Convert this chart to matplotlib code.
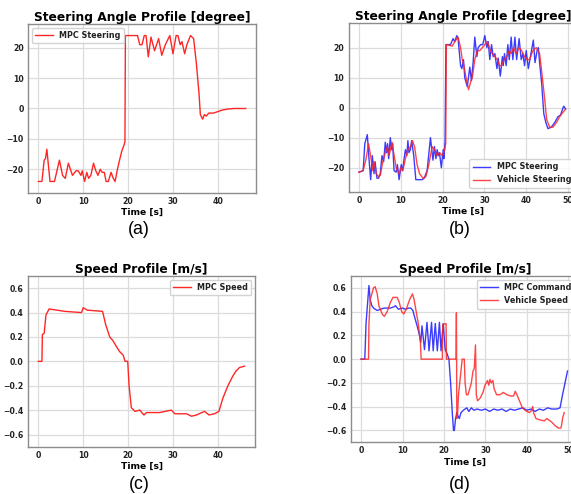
import matplotlib
matplotlib.use("Agg")
import matplotlib.pyplot as plt
import numpy as np

# ---------------- data ----------------
# (a) MPC steering [deg]
a_t = [0, 0.8, 1.3, 1.6, 1.9, 2.6, 3.6, 4.7, 5.4, 6.0, 6.7, 7.6, 8.4, 8.9, 9.5, 9.8,
       10.3, 10.8, 11.2, 11.7, 12.3, 12.8, 13.3, 13.8, 14.2, 14.7, 15.1, 15.6, 16.2, 16.7,
       17.1, 17.7, 18.1, 18.6, 19.1, 19.3, 19.4, 22.1, 22.6, 23.1, 23.6, 24.0, 24.5, 25.1,
       25.9, 26.8, 27.5, 28.3, 29.3, 30.0, 30.7, 31.1, 31.6, 32.0, 32.6, 33.1, 33.9, 34.6,
       35.2, 35.8, 36.1, 36.6, 37.0, 37.4, 38.0, 39.1, 40.0, 41.0, 42.1, 43.6, 46.2]
a_v = [-24, -24, -17, -16.5, -13.4, -24, -24, -17, -22, -23, -18, -22, -20.5, -20.5, -22, -20.5,
       -24, -21, -23, -22, -18, -20.5, -22, -20, -21, -21, -24, -24, -21, -23,
       -24, -19.5, -17, -14, -12, -11, 24, 24, 21, 21, 24, 24, 17, 23.5,
       19, 23, 17.5, 21, 24, 18, 24, 24, 21, 22, 18, 21, 24, 23,
       15, 5, -2, -3.5, -2, -2.5, -1.5, -1.5, -1, -0.5, -0.2, 0, 0]

# (b) MPC steering vs vehicle steering [deg]
b_t_mpc = [0, 1.0, 1.4, 2.0, 2.4, 2.8, 3.2, 3.6, 3.85, 4.3, 4.7, 5.1, 5.5, 5.9, 6.3, 6.6,
           6.85, 7.1, 7.5, 7.8, 8.05, 8.4, 8.9, 9.2, 9.6, 10.1, 10.4, 10.8, 11.1, 11.45,
           11.7, 11.95, 12.3, 12.6, 13.1, 13.6, 15.1, 15.6, 16.3, 17.1, 17.7, 18.05, 18.4,
           18.7, 19.0, 19.25, 19.7, 20.15, 20.3, 20.6, 20.8, 21.9, 22.5, 22.9, 23.4, 23.7,
           23.9, 24.3, 24.6, 25.0, 25.3, 25.9, 26.5, 26.9, 27.3, 27.7, 28.2, 28.5, 29.1,
           29.6, 30.1, 30.6, 30.9, 31.3, 31.7, 32.1, 32.5, 33.0, 33.3, 33.8, 34.3, 34.5,
           34.8, 35.2, 35.6, 35.95, 36.4, 36.8, 37.3, 37.7, 38.3, 38.8, 39.2, 39.6, 40.0,
           40.5, 41.0, 41.7, 42.1, 42.6, 42.9, 43.2, 43.7, 44.2, 44.7, 45.2, 46.0, 46.8,
           47.6, 48.2, 48.8, 49.0, 49.4]
b_v_mpc = [-21.5, -21, -12, -9, -17, -24, -16, -22, -18, -23.5, -23.5, -22, -16, -18, -11.5, -15,
           -12, -17, -10, -14, -12, -21, -21.5, -19, -24, -19, -21, -17, -14, -16,
           -11, -15, -14, -11, -16, -24, -24, -23.5, -21, -10, -17.5, -13, -17,
           -14, -16, -15, -20, -14, -17, -11, 21, 21, 23, 22, 24, 23,
           20, 14, 13, 16, 10, 7, 13.5, 9, 15, 23.5, 17, 20, 21,
           21, 24, 20, 22, 16, 21, 17, 18, 13, 16.5, 10.5, 17, 14,
           18, 14, 21, 16, 23.5, 16, 23.5, 16, 23, 16, 18, 14, 19,
           13, 17, 22.5, 15, 19, 20, 15, 8, -2, -5, -7, -6.5, -5,
           -3, -2.5, 0, 0.5, -0.5]
b_t_veh = [0, 1.0, 1.7, 2.3, 2.9, 3.3, 3.6, 4.1, 4.7, 5.1, 5.7, 6.3, 6.8, 7.2, 7.9, 8.3,
           8.9, 9.6, 10.0, 10.5, 11.1, 11.7, 12.3, 12.8, 13.3, 13.9, 14.5, 15.3, 16.0, 16.7,
           17.5, 18.1, 18.7, 19.3, 19.9, 20.5, 20.75, 20.9, 21.1, 22.3, 22.9, 23.7, 24.3,
           24.7, 25.1, 25.6, 26.2, 26.8, 27.1, 27.7, 28.3, 28.9, 29.8, 30.7, 31.4, 31.9,
           32.5, 33.1, 33.6, 34.1, 34.7, 35.4, 35.95, 36.4, 37.0, 37.6, 38.3, 38.9, 39.6,
           40.2, 40.8, 41.6, 42.4, 43.2, 43.7, 44.4, 44.9, 45.6, 46.4, 47.2, 48.0, 48.8, 49.4]
b_v_veh = [-21.5, -21, -17, -12, -17, -21, -18, -22, -23, -22.5, -18, -15, -13, -16, -11.5, -15,
           -20, -22, -20, -21, -17, -14, -13, -11, -13, -19, -22, -23.5, -23, -19,
           -13, -14, -16, -15, -16, -14, -12, 21, 21, 20.5, 22, 23.5, 20,
           16, 14, 10, 6, 9, 10, 16, 19, 19, 20.5, 22, 19, 18,
           17, 16, 14, 14, 16, 17, 19, 18, 20, 18, 20, 19, 17,
           16, 16, 19, 20, 18, 12, 3, -4, -6.5, -6.5, -5, -3, -1.5, -0.5]

# (c) MPC speed [m/s]
c_t = [0, 0.8, 0.9, 1.3, 1.7, 2.4, 4.1, 5.9, 9.6, 10.0, 10.9, 14.3, 15.0, 15.9, 16.6,
       17.4, 18.1, 18.9, 19.3, 19.9, 20.2, 20.7, 21.5, 22.6, 23.5, 24.1, 27.0, 29.6,
       30.4, 33.0, 34.1, 35.2, 37.0, 38.0, 39.2, 40.2, 41.1, 42.2, 43.3, 44.0, 44.8, 45.9]
c_v = [0, 0, 0.22, 0.23, 0.38, 0.43, 0.42, 0.41, 0.40, 0.44, 0.42, 0.41, 0.3, 0.2, 0.17,
       0.12, 0.08, 0.05, 0.0, 0.0, -0.2, -0.38, -0.41, -0.40, -0.44, -0.42, -0.42, -0.40,
       -0.43, -0.43, -0.45, -0.44, -0.41, -0.44, -0.43, -0.41, -0.3, -0.2, -0.12, -0.08, -0.05, -0.04]

# (d) MPC command vs vehicle speed [m/s]
d_t_cmd = [0, 0.9, 1.2, 1.9, 2.2, 2.6, 3.0, 3.9, 4.7, 5.5, 6.3, 7.1, 7.9, 8.3, 9.0, 10.0,
           10.7, 11.5, 12.0, 12.5, 12.8, 13.2, 13.6, 14.1, 14.4, 14.7, 15.3, 15.9, 16.4,
           17.0, 17.4, 17.9, 18.4, 18.9, 19.3, 19.8, 20.3, 20.7, 21.2, 21.6, 22.0, 22.3,
           22.5, 22.8, 23.1, 23.4, 23.7, 24.1, 24.7, 25.5, 26.0, 26.6, 27.2, 28.0, 29.0,
           30.0, 31.0, 32.0, 33.0, 34.0, 35.0, 36.0, 37.0, 38.0, 39.0, 40.0, 41.0, 42.0,
           43.0, 44.0, 45.0, 46.0, 47.2, 48.0, 48.6, 49.2, 49.8]
d_v_cmd = [0, 0, 0.3, 0.62, 0.5, 0.45, 0.43, 0.41, 0.42, 0.43, 0.43, 0.43, 0.44, 0.45, 0.42, 0.43,
           0.42, 0.43, 0.43, 0.41, 0.37, 0.32, 0.27, 0.2, 0.14, 0.28, 0.08, 0.31, 0.07,
           0.31, 0.07, 0.30, 0.07, 0.31, 0.07, 0.30, 0.08, 0.05, 0.0, -0.2, -0.45, -0.6,
           -0.6, -0.5, -0.45, -0.48, -0.5, -0.45, -0.43, -0.41, -0.44, -0.41, -0.43, -0.42, -0.43,
           -0.42, -0.44, -0.42, -0.43, -0.42, -0.44, -0.42, -0.43, -0.42, -0.41, -0.43, -0.42, -0.44,
           -0.42, -0.43, -0.41, -0.42, -0.42, -0.41, -0.3, -0.2, -0.1]
d_t_veh = [0, 1.8, 1.9, 2.2, 3.0, 3.4, 3.9, 4.3, 5.1, 5.6, 6.3, 7.1, 7.7, 8.7, 9.2, 9.8,
           10.3, 10.9, 11.7, 12.4, 12.8, 13.3, 13.8, 14.3, 14.5, 19.6, 19.7, 20.5, 20.6,
           22.9, 23.0, 23.1, 23.3, 23.5, 23.8, 24.1, 24.4, 24.9, 25.1, 25.4, 25.8, 26.2,
           26.6, 27.0, 27.3, 27.6, 27.8, 28.1, 28.7, 29.4, 29.9, 30.5, 30.8, 31.1, 31.4,
           31.8, 32.1, 32.7, 33.5, 34.3, 35.2, 36.1, 36.8, 37.2, 37.6, 38.2, 38.8, 39.2,
           40.0, 40.6, 41.2, 41.4, 41.6, 42.2, 43.0, 44.2, 44.8, 46.0, 46.8, 47.6, 48.2,
           48.4, 48.6, 49.0]
d_v_veh = [0, 0, 0.3, 0.5, 0.6, 0.61, 0.55, 0.45, 0.38, 0.36, 0.4, 0.48, 0.52, 0.52, 0.48, 0.40,
           0.38, 0.42, 0.50, 0.55, 0.5, 0.40, 0.3, 0.15, 0, 0, 0.29, 0.3, 0,
           0, 0.39, -0.5, -0.45, -0.3, -0.2, -0.1, 0, 0, -0.2, -0.3, -0.3, -0.25,
           -0.2, -0.1, -0.08, 0.12, -0.3, -0.35, -0.33, -0.28, -0.22, -0.18, -0.22, -0.17, -0.2,
           -0.18, -0.25, -0.3, -0.3, -0.28, -0.3, -0.31, -0.31, -0.27, -0.3, -0.35, -0.4, -0.42,
           -0.44, -0.45, -0.43, -0.40, -0.45, -0.5, -0.51, -0.52, -0.5, -0.53, -0.56, -0.58, -0.58,
           -0.55, -0.5, -0.45]

titles = ["Steering Angle Profile [degree]", "Steering Angle Profile [degree]",
          "Speed Profile [m/s]", "Speed Profile [m/s]"]
captions = ["(a)", "(b)", "(c)", "(d)"]
xlabel = "Time [s]"

# ---------------- figure ----------------
W, H = 571, 494
fig = plt.figure(figsize=(W / 100, H / 100), dpi=100)
plt.rcParams['font.family'] = ['DejaVu Sans']

def box(l, r, t, b):
    return [l / W, (H - b) / H, (r - l) / W, (b - t) / H]

axes = [
    fig.add_axes(box(28, 256, 24, 193)),
    fig.add_axes(box(348.5, 578.5, 23.3, 191.7)),
    fig.add_axes(box(28, 255.3, 276, 446.7)),
    fig.add_axes(box(350.7, 578.7, 276, 442.3)),
]

RED = (1.0, 0.15, 0.15)
BLUE = (0.1, 0.1, 1.0)
lw = 1.0

axes[0].plot(a_t, a_v, color=RED, lw=lw, label="MPC Steering")
axes[1].plot(b_t_mpc, b_v_mpc, color=BLUE, lw=lw, alpha=0.85, label="MPC Steering")
axes[1].plot(b_t_veh, b_v_veh, color=RED, lw=lw, alpha=0.85, label="Vehicle Steering")
axes[2].plot(c_t, c_v, color=RED, lw=lw, label="MPC Speed")
axes[3].plot(d_t_cmd, d_v_cmd, color=BLUE, lw=lw, alpha=0.85, label="MPC Command")
axes[3].plot(d_t_veh, d_v_veh, color=RED, lw=lw, alpha=0.85, label="Vehicle Speed")

xlims = [(-2.3, 48.5), (-2.5, 52.5), (-2.3, 48.3), (-2.5, 52.5)]
ylims = [(-27.8, 27.8), (-28.0, 28.1), (-0.7, 0.7), (-0.7, 0.7)]
xticks = [[0, 10, 20, 30, 40], [0, 10, 20, 30, 40, 50], [0, 10, 20, 30, 40], [0, 10, 20, 30, 40, 50]]
yticks = [[-20, -10, 0, 10, 20], [-20, -10, 0, 10, 20],
          [-0.6, -0.4, -0.2, 0.0, 0.2, 0.4, 0.6], [-0.6, -0.4, -0.2, 0.0, 0.2, 0.4, 0.6]]
legend_loc = ["upper left", "lower right", "upper right", "upper right"]

for i, ax in enumerate(axes):
    ax.set_xlim(*xlims[i])
    ax.set_ylim(*ylims[i])
    ax.set_xticks(xticks[i])
    ax.set_yticks(yticks[i])
    if i >= 2:
        ax.set_yticklabels([f"{v:.1f}".replace("-", "\u2212") for v in yticks[i]])
    ax.grid(True, color="#dcdcdc", lw=0.9)
    ax.set_axisbelow(True)
    for s in ax.spines.values():
        s.set_color("#8c8c8c")
        s.set_linewidth(1.0)
    ax.tick_params(length=0, pad=3, labelsize=5.6)
    for lab in ax.get_xticklabels() + ax.get_yticklabels():
        lab.set_fontweight("bold")
        lab.set_color("#222222")
    ax.set_title(titles[i], fontsize=8.8, fontweight="bold", pad=1.5)
    ax.set_xlabel(xlabel, fontsize=6.6, fontweight="bold", labelpad=1.5)
    leg = ax.legend(loc=legend_loc[i], prop={"weight": "bold", "size": 5.8},
                    handlelength=2.2, framealpha=0.85, edgecolor="#cccccc", fancybox=True)
    for txt in leg.get_texts():
        txt.set_color("#222222")

cap_pos = [(139, 230), (460, 230), (139, 484), (460, 484)]
for c, (x, y) in zip(captions, cap_pos):
    fig.text(x / W, (H - y) / H, c, ha="center", va="center", fontsize=12.8,
             family="Liberation Sans")

fig.savefig("out.png", dpi=100)
